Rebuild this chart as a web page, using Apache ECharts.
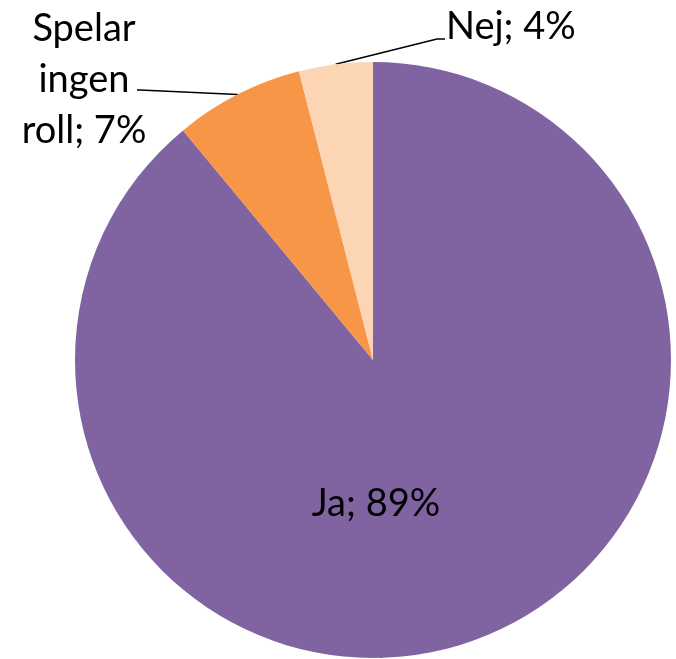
<!DOCTYPE html>
<html>
<head>
<meta charset="utf-8">
<script src="https://cdn.jsdelivr.net/npm/echarts@6/dist/echarts.min.js"></script>
<style>html,body{margin:0;padding:0;background:#fff;}#c{width:676px;height:659px;}</style>
</head>
<body>
<div id="c"></div>
<script>
var categories = ['Ja', 'Spelar\ningen\nroll', 'Nej'];
var values = [89, 7, 4];
var colors = ['#8064A2', '#F79646', '#FCD5B5'];

var chart = echarts.init(document.getElementById('c'));
var data = categories.map(function (c, i) {
  return { name: c, value: values[i], itemStyle: { color: colors[i] } };
});
data[0].label = { position: 'inside' };

chart.setOption({
  animation: false,
  series: [{
    type: 'pie',
    center: [373, 360],
    radius: [0, 298],
    startAngle: 90,
    clockwise: true,
    avoidLabelOverlap: false,
    data: data,
    label: {
      show: true,
      position: 'outside',
      formatter: function (p) { return p.name + '; ' + p.value + '%'; },
      fontFamily: 'Lato',
      fontSize: 38,
      lineHeight: 51,
      color: '#000'
    },
    labelLine: {
      show: true,
      lineStyle: { color: '#000', width: 1.5 },
      length: 20,
      length2: 10
    },
    labelLayout: function (params) {
      var p0 = params.labelLinePoints ? params.labelLinePoints[0] : null;
      if (params.dataIndex === 0) {
        return { x: 376, y: 504, align: 'center', verticalAlign: 'middle' };
      }
      if (params.dataIndex === 1) {
        return {
          x: 84, y: 80, align: 'center', verticalAlign: 'middle',
          labelLinePoints: [p0, [140, 90], [137, 90]]
        };
      }
      return {
        x: 446, y: 27, align: 'left', verticalAlign: 'middle',
        labelLinePoints: [p0, [437, 39], [445, 39]]
      };
    }
  }]
});
</script>
</body>
</html>
